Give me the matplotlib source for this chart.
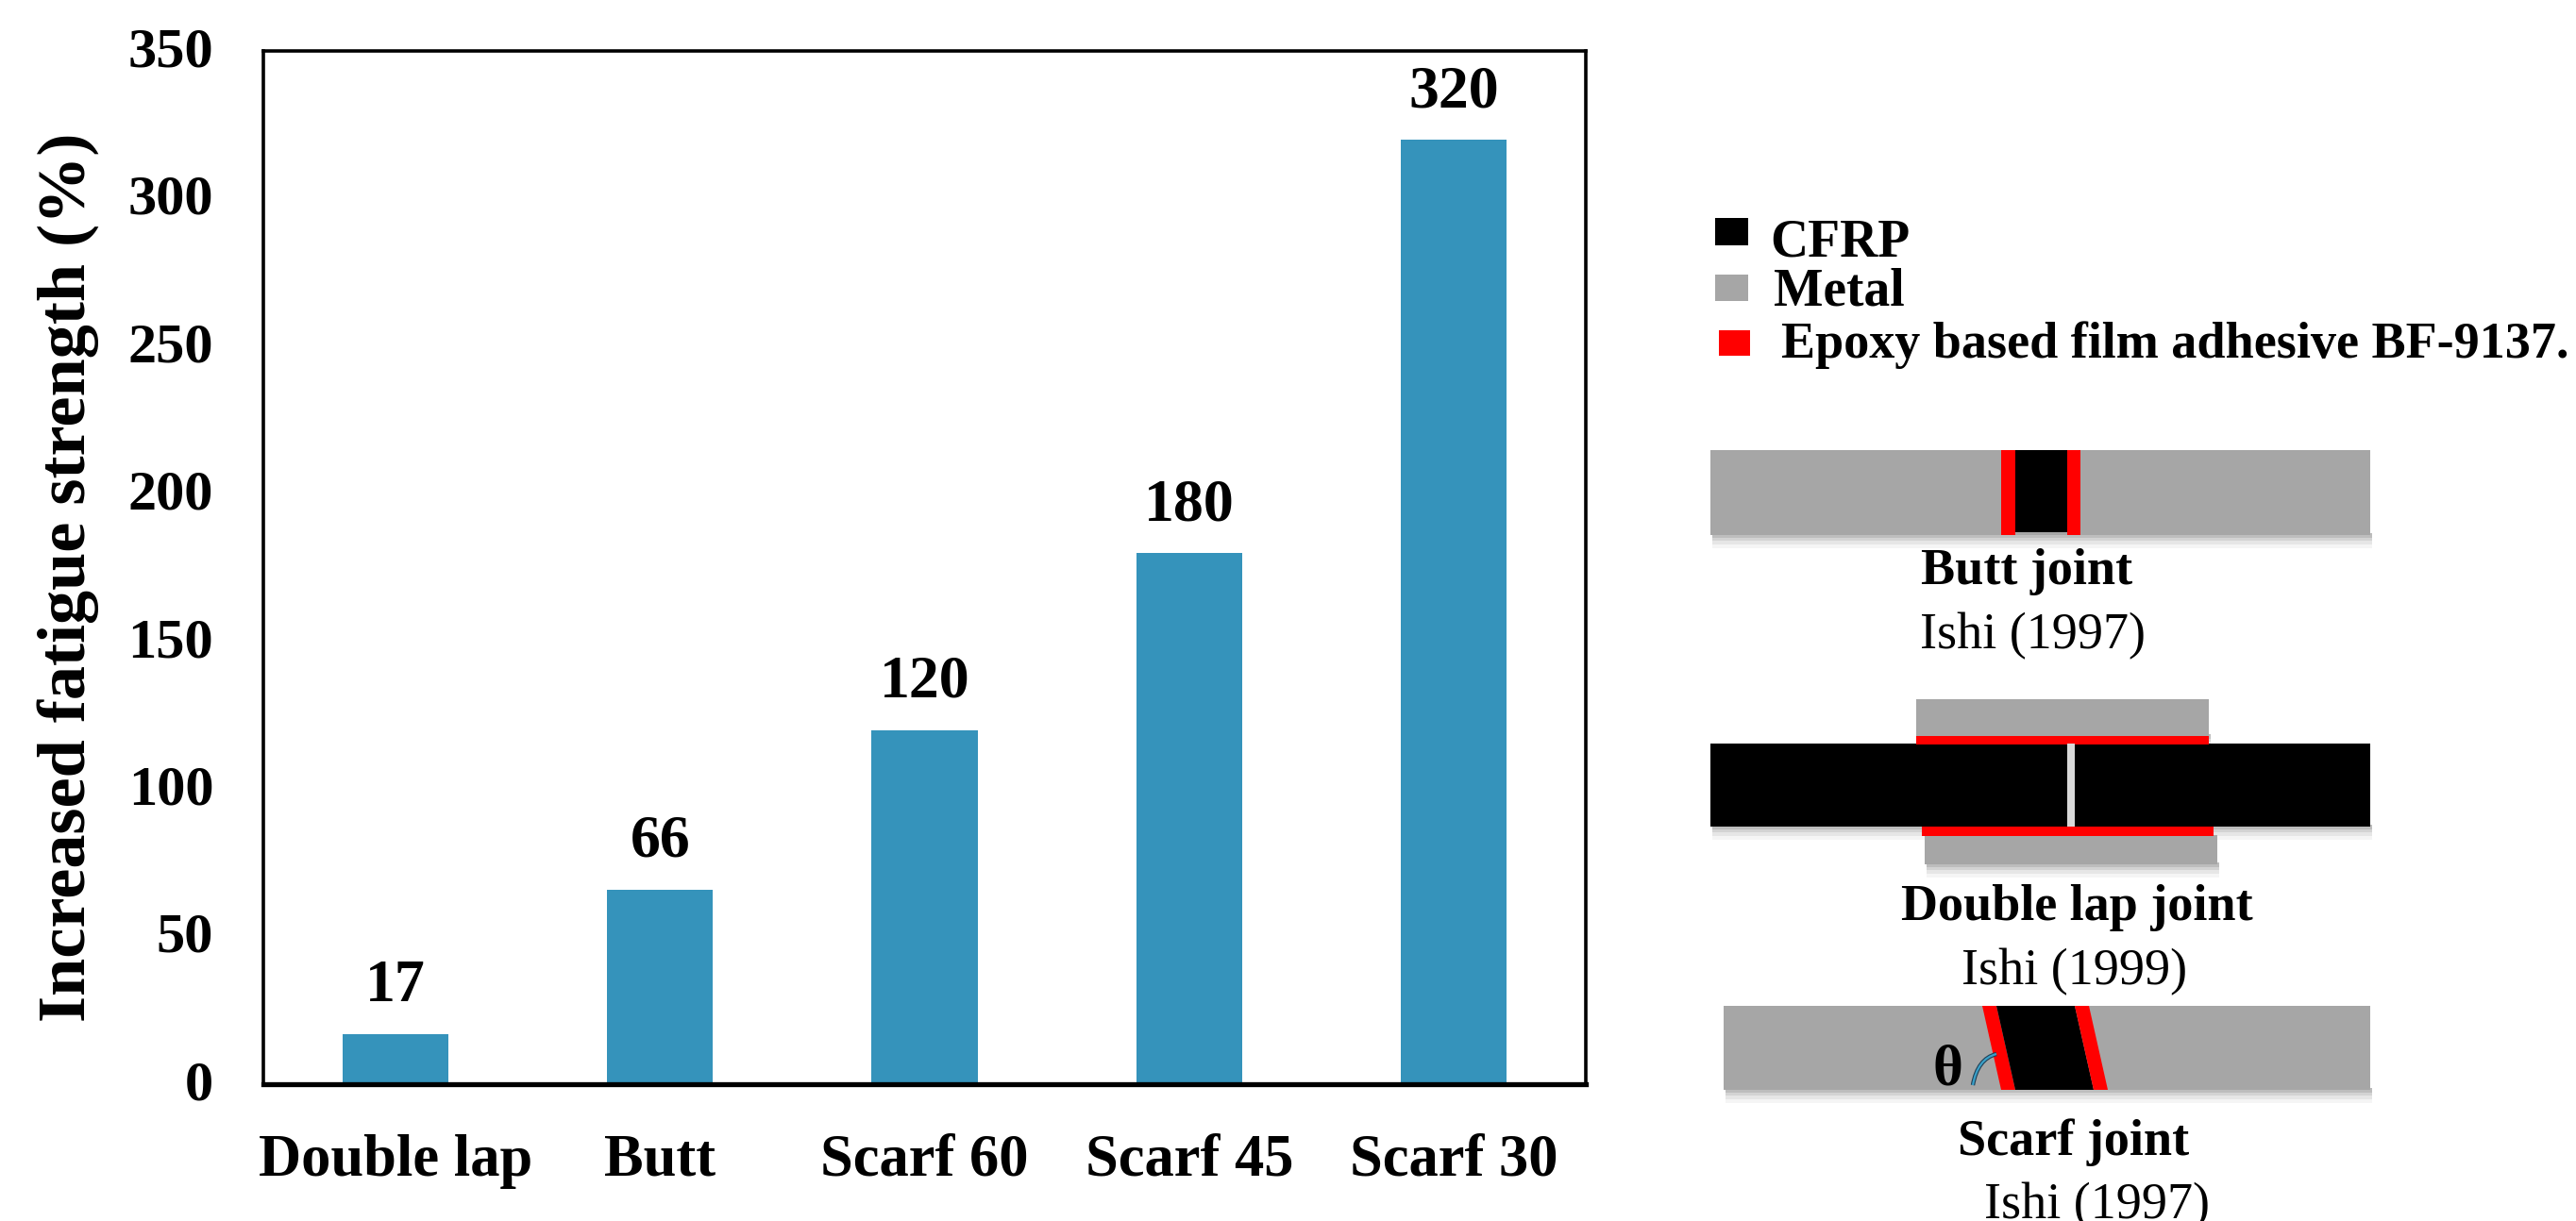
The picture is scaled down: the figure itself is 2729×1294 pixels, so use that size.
import matplotlib
matplotlib.use('Agg')
import matplotlib.pyplot as plt
from matplotlib.patches import Polygon, Rectangle, PathPatch
from matplotlib.path import Path
from matplotlib.transforms import ScaledTranslation

plt.rcParams['font.family'] = ['Liberation Serif', 'DejaVu Serif']

W, H = 2729, 1294

categories = ['Double lap', 'Butt', 'Scarf 60', 'Scarf 45', 'Scarf 30']
strength = [17, 66, 120, 180, 320]
yticks = [0, 50, 100, 150, 200, 250, 300, 350]

BLUE = '#3593bb'
GREY = '#a6a6a6'
RED = '#ff0000'

fig = plt.figure(figsize=(W / 100, H / 100), dpi=100)
ax = fig.add_axes([279 / W, 1 - 1149 / H, (1680 - 279) / W, (1149 - 54) / H])

ax.bar(range(len(categories)), strength, width=0.4, color=BLUE)
for i, v in enumerate(strength):
    ax.annotate(str(v), (i, v), xytext=(0, 15), textcoords='offset points',
                ha='center', va='bottom', fontsize=46, fontweight='bold')

ax.set_xlim(-0.5, len(categories) - 0.5)
ax.set_ylim(0, 350)
ax.set_yticks(yticks)
ax.set_xticks(range(len(categories)))
ax.set_xticklabels(categories, fontsize=45, fontweight='bold')
ax.tick_params(length=0, axis='x', pad=38)
ax.tick_params(length=0, axis='y', pad=38)

# nudge the y tick labels up a little
nudge = ScaledTranslation(0, 3 / 72, fig.dpi_scale_trans)
for t in ax.get_yticklabels():
    t.set_fontsize(43.5)
    t.set_fontweight('bold')
    t.set_transform(t.get_transform() + nudge)

ax.set_ylabel('Increased fatigue strength (%)', fontsize=52, fontweight='bold', labelpad=22)
ax.yaxis.label.set_y(0.491)
for s in ax.spines.values():
    s.set_linewidth(2.6)
ax.spines['bottom'].set_linewidth(3.8)

# joint sketches are laid out in pixel units on a full-figure overlay
sk = fig.add_axes([0, 0, 1, 1])
sk.set_xlim(0, W)
sk.set_ylim(H, 0)
sk.axis('off')
sk.patch.set_alpha(0)


def box(x0, x1, y0, y1, color, shadow=False, z=2):
    if shadow:
        for grow, a in ((14, 0.04), (10, 0.06), (6, 0.08), (3, 0.10)):
            sk.add_patch(Rectangle((x0 + 2, y1 - 2), x1 - x0, grow + 2, color='k', alpha=a, lw=0, zorder=z - 1))
    sk.add_patch(Rectangle((x0, y0), x1 - x0, y1 - y0, color=color, lw=0, zorder=z))


def poly(xy, color, z=3):
    sk.add_patch(Polygon(xy, closed=True, color=color, lw=0, zorder=z))


def label(x, y, s, bold=True, size=39, ha='center'):
    sk.text(x, y, s, ha=ha, va='baseline', fontsize=size, fontweight='bold' if bold else 'normal', clip_on=False)


# legend
box(1817, 1852, 231, 260, 'k')
box(1817, 1852, 291, 319, GREY)
box(1821, 1854, 350, 377, RED)
label(1875, 271, 'CFRP', size=40, ha='left')
label(1879, 324, 'Metal', size=40, ha='left')
label(1887, 379, 'Epoxy based film adhesive BF-9137.', ha='left')

# butt joint
box(1812, 2511, 477, 567, GREY, shadow=True)
box(2120, 2135, 477, 567, RED, z=3)
box(2135, 2190, 477, 564, 'k', z=3)
box(2190, 2204, 477, 567, RED, z=3)
label(2147, 619, 'Butt joint')
label(2154, 687, 'Ishi (1997)', bold=False)

# double lap joint
box(2030, 2340, 741, 780, GREY, shadow=True)
box(2039, 2349, 885, 916, GREY, shadow=True)
box(2030, 2340, 780, 789, RED, z=3)
box(2036, 2345, 876, 886, RED, z=3)
box(1812, 2511, 788, 876, 'k', shadow=True)
box(2190, 2198, 788, 876, '#d9d9d9', z=3)
label(2200, 975, 'Double lap joint')
label(2198, 1043, 'Ishi (1999)', bold=False)

# scarf joint
box(1826, 2511, 1066, 1155, GREY, shadow=True)
poly([(2100, 1066), (2115, 1066), (2135, 1155), (2120, 1155)], RED)
poly([(2115, 1066), (2198, 1066), (2218, 1155), (2135, 1155)], 'k')
poly([(2198, 1066), (2213, 1066), (2233, 1155), (2218, 1155)], RED)
arc = Path([(2115, 1117), (2095, 1122), (2090, 1150)], [Path.MOVETO, Path.CURVE3, Path.CURVE3])
sk.add_patch(PathPatch(arc, fill=False, ec='#1f3f55', lw=3.2, zorder=4))
sk.add_patch(PathPatch(arc, fill=False, ec='#3aa0c8', lw=1.6, zorder=5))
label(2064, 1149, '\u03b8', size=44)
label(2197, 1224, 'Scarf joint')
label(2222, 1291, 'Ishi (1997)', bold=False)

fig.savefig('out.png', dpi=100)
